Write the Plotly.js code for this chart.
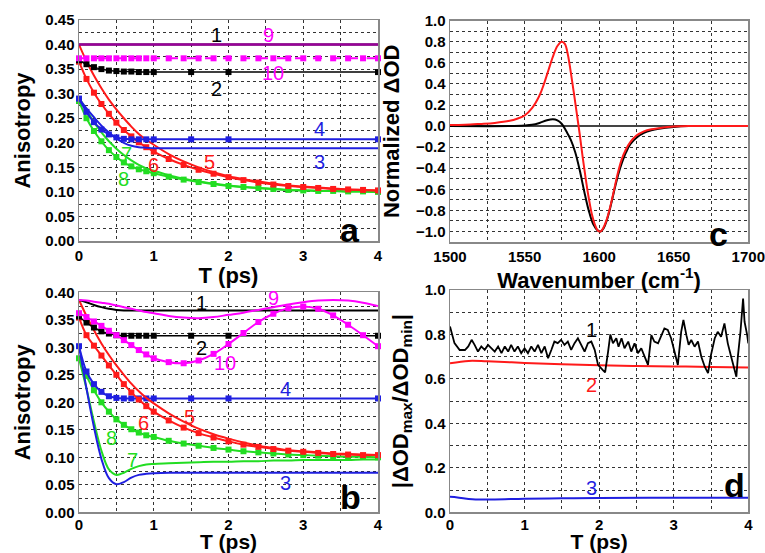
<!DOCTYPE html>
<html>
<head>
<meta charset="utf-8">
<script src="https://cdn.plot.ly/plotly-3.0.1.min.js"></script>
<style>html,body{margin:0;padding:0;background:#fff;}#chart{width:765px;height:553px;}</style>
</head>
<body>
<div id="chart"></div>
<script>
// ---------- time grids (ps) ----------
const T = [0,0.1,0.2,0.3,0.4,0.5,0.6,0.7,0.8,0.9,1.0,1.2,1.4,1.6,1.8,2.0,2.2,2.4,2.6,2.8,3.0,3.2,3.4,3.6,3.8,4.0];
const Tm = [0,0.1,0.2,0.3,0.4,0.5,0.6,0.7,0.8,0.9,1.0,1.5,2.0,4.0];
const tFlat = [0,4];

// ---------- panel a ----------
const a1 = [0.400,0.400];
const a9 = [0.400,0.400];
const a10 = [0.372,0.372,0.372,0.372,0.372,0.372,0.372,0.372,0.372,0.372,0.372,0.372,0.372,0.372,0.372,0.372,0.372,0.372,0.372,0.372,0.372,0.372,0.372,0.372,0.372,0.372];
const a2 = [0.368,0.360,0.354,0.350,0.347,0.346,0.345,0.345,0.344,0.344,0.344,0.344,0.344,0.344];
const a3 = [0.290,0.270,0.252,0.235,0.221,0.209,0.200,0.194,0.191,0.190,0.189,0.189,0.189,0.189,0.189,0.189,0.189,0.189,0.189,0.189,0.189,0.189,0.189,0.189,0.189,0.189];
const a4 = [0.290,0.263,0.242,0.227,0.217,0.211,0.208,0.207,0.207,0.207,0.207,0.207,0.207,0.207];
const a5 = [0.400,0.366,0.337,0.311,0.288,0.268,0.250,0.233,0.218,0.206,0.196,0.177,0.162,0.150,0.140,0.132,0.126,0.121,0.117,0.113,0.111,0.109,0.107,0.105,0.104,0.103];
const a6 = [0.365,0.330,0.302,0.279,0.259,0.241,0.226,0.213,0.201,0.191,0.182,0.167,0.155,0.145,0.137,0.130,0.124,0.119,0.115,0.112,0.110,0.108,0.106,0.105,0.104,0.103];
const a7 = [0.292,0.266,0.242,0.221,0.203,0.188,0.175,0.164,0.155,0.148,0.143,0.134,0.127,0.121,0.117,0.113,0.110,0.108,0.106,0.104,0.103,0.102,0.102,0.101,0.101,0.100];
const a8 = [0.285,0.250,0.224,0.203,0.185,0.171,0.160,0.152,0.146,0.142,0.138,0.131,0.125,0.120,0.116,0.112,0.110,0.108,0.106,0.104,0.103,0.102,0.102,0.101,0.101,0.100];

// ---------- panel b ----------
const b1 = [0.386,0.382,0.377,0.373,0.370,0.368,0.367,0.367,0.367,0.367,0.367,0.367,0.367,0.367,0.367,0.367,0.367,0.367,0.367,0.367,0.367,0.367,0.367,0.367,0.367,0.367];
const b9 = [0.386,0.385,0.383,0.381,0.379,0.376,0.373,0.370,0.367,0.364,0.362,0.357,0.354,0.353,0.355,0.359,0.363,0.368,0.373,0.378,0.382,0.385,0.386,0.385,0.381,0.375];
const b10 = [0.362,0.355,0.347,0.339,0.330,0.322,0.313,0.304,0.295,0.287,0.280,0.273,0.271,0.276,0.288,0.306,0.326,0.346,0.361,0.371,0.374,0.370,0.358,0.341,0.322,0.302];
const b2 = [0.356,0.345,0.336,0.329,0.325,0.322,0.321,0.321,0.321,0.321,0.321,0.321,0.321,0.321];
const b3 = [0.302,0.225,0.155,0.097,0.062,0.051,0.055,0.063,0.068,0.070,0.071,0.072,0.072,0.072,0.072,0.072,0.072,0.072,0.072,0.072,0.072,0.072,0.072,0.072,0.072,0.072];
const b4 = [0.302,0.256,0.233,0.219,0.211,0.208,0.207,0.207,0.207,0.207,0.207,0.207,0.207,0.207];
const b5 = [0.386,0.357,0.331,0.307,0.286,0.267,0.250,0.234,0.220,0.208,0.198,0.180,0.165,0.152,0.142,0.134,0.127,0.121,0.117,0.113,0.111,0.109,0.107,0.106,0.105,0.104];
const b6 = [0.354,0.322,0.303,0.285,0.267,0.250,0.233,0.218,0.205,0.193,0.183,0.167,0.154,0.144,0.136,0.129,0.123,0.119,0.115,0.112,0.110,0.108,0.106,0.105,0.104,0.104];
const b7 = [0.280,0.225,0.165,0.112,0.078,0.068,0.072,0.079,0.084,0.087,0.088,0.089,0.090,0.091,0.092,0.092,0.093,0.093,0.094,0.094,0.095,0.095,0.095,0.095,0.096,0.096];
const b8 = [0.280,0.248,0.222,0.200,0.183,0.169,0.159,0.151,0.145,0.140,0.137,0.130,0.125,0.121,0.117,0.114,0.111,0.109,0.107,0.105,0.104,0.103,0.102,0.101,0.101,0.100];

// ---------- panel c ----------
const wnRed = [1500,1510,1520,1530,1540,1545,1550,1555,1560,1563,1566,1569,1572,1575,1577,1579,1581,1583,1585,1587,1589,1591,1593,1595,1597,1599,1601,1603,1605,1607,1609,1611,1613,1615,1618,1621,1625,1630,1635,1640,1650,1660,1700];
const odRed = [0.010,0.012,0.020,0.030,0.050,0.070,0.100,0.170,0.290,0.400,0.530,0.660,0.760,0.800,0.780,0.680,0.510,0.320,0.120,-0.080,-0.300,-0.500,-0.680,-0.830,-0.930,-0.990,-1.000,-0.960,-0.890,-0.790,-0.670,-0.540,-0.420,-0.320,-0.220,-0.150,-0.090,-0.050,-0.030,-0.020,-0.005,0.000,0.000];
const wnBlack = [1500,1540,1550,1555,1560,1565,1569,1572,1575,1578,1581,1584,1587,1590,1593,1596,1599,1601,1603,1605,1607,1609,1611,1613,1615,1618,1621,1625,1630,1635,1640,1650,1660,1700];
const odBlack = [0.000,0.000,0.005,0.012,0.030,0.055,0.065,0.055,0.020,-0.050,-0.130,-0.250,-0.420,-0.620,-0.800,-0.930,-0.990,-1.000,-0.970,-0.900,-0.800,-0.680,-0.560,-0.450,-0.360,-0.250,-0.170,-0.110,-0.065,-0.040,-0.025,-0.008,0.000,0.000];

// ---------- panel d ----------
const dT1 = [0.00,0.06,0.13,0.20,0.245,0.29,0.33,0.375,0.42,0.465,0.51,0.555,0.60,0.645,0.69,0.735,0.78,0.82,0.865,0.91,0.955,1.00,1.045,1.09,1.135,1.18,1.225,1.27,1.315,1.36,1.40,1.445,1.49,1.535,1.58,1.625,1.67,1.715,1.76,1.805,1.85,1.895,1.94,1.985,2.05,2.08,2.12,2.15,2.185,2.23,2.26,2.30,2.34,2.39,2.43,2.475,2.52,2.565,2.61,2.655,2.70,2.74,2.79,2.83,2.875,2.92,2.965,3.01,3.055,3.10,3.13,3.17,3.20,3.235,3.28,3.325,3.37,3.415,3.46,3.50,3.55,3.59,3.635,3.68,3.725,3.77,3.815,3.84,3.86,3.895,3.93,3.95,3.985,4.00];
const d1 = [0.836,0.761,0.730,0.730,0.746,0.776,0.753,0.723,0.746,0.731,0.753,0.738,0.723,0.746,0.716,0.746,0.723,0.753,0.723,0.746,0.716,0.738,0.716,0.746,0.723,0.753,0.716,0.746,0.693,0.731,0.768,0.761,0.776,0.753,0.768,0.731,0.761,0.783,0.753,0.723,0.761,0.768,0.731,0.663,0.640,0.630,0.723,0.800,0.760,0.783,0.745,0.783,0.738,0.768,0.723,0.760,0.716,0.738,0.700,0.663,0.797,0.768,0.760,0.790,0.827,0.820,0.783,0.723,0.663,0.812,0.865,0.797,0.753,0.775,0.745,0.768,0.700,0.656,0.626,0.708,0.783,0.812,0.790,0.850,0.760,0.700,0.633,0.610,0.700,0.812,0.962,0.857,0.797,0.760];
const dT2 = [0,0.25,0.5,1.0,1.5,2.0,2.5,3.0,3.5,4.0];
const d2 = [0.670,0.681,0.679,0.672,0.666,0.661,0.658,0.656,0.654,0.651];
const dT3 = [0,0.1,0.2,0.3,0.4,0.6,1.0,1.5,2.0,3.0,4.0];
const d3 = [0.070,0.067,0.062,0.059,0.058,0.058,0.061,0.063,0.064,0.066,0.066];

// ---------- tick labels ----------
const tTicks = [0,1,2,3,4];
const wnTicks = [1500,1550,1600,1650,1700];

// ---------- styles ----------
const RED = '#ff1a1a', GREEN = '#22dd22', BLUE = '#1f1fe0', MAG = '#ff00ff', BLK = '#000000';
const FONT = 'Liberation Sans, Arial, sans-serif';

function line(x, y, color, xa, ya, opts) {
  opts = opts || {};
  return {
    x: x, y: y, xaxis: xa, yaxis: ya, type: 'scatter',
    mode: opts.markers ? 'lines+markers' : 'lines',
    line: {color: color, width: opts.width || 2, shape: opts.shape || 'spline', dash: opts.dash || 'solid'},
    marker: {symbol: 'square', size: 6, color: color},
    opacity: opts.opacity || 1,
    cliponaxis: false,
    showlegend: false, hoverinfo: 'skip'
  };
}

const traces = [
  // panel a
  line(T, a7, GREEN, 'x', 'y'),
  line(T, a8, GREEN, 'x', 'y', {markers: true}),
  line(T, a5, RED, 'x', 'y'),
  line(T, a6, RED, 'x', 'y', {markers: true}),
  line(T, a3, BLUE, 'x', 'y'),
  line(Tm, a4, BLUE, 'x', 'y', {markers: true}),
  line(Tm, a2, BLK, 'x', 'y', {markers: true, width: 1.5}),
  line(T, a10, MAG, 'x', 'y', {markers: true, dash: 'dash'}),
  line(tFlat, a1, BLK, 'x', 'y', {width: 2.5}),
  line(tFlat, a9, MAG, 'x', 'y', {width: 2.5, opacity: 0.6}),
  // panel b
  line(T, b7, GREEN, 'x3', 'y3'),
  line(T, b8, GREEN, 'x3', 'y3', {markers: true}),
  line(T, b3, BLUE, 'x3', 'y3'),
  line(Tm, b4, BLUE, 'x3', 'y3', {markers: true}),
  line(T, b5, RED, 'x3', 'y3'),
  line(T, b6, RED, 'x3', 'y3', {markers: true}),
  line(Tm, b2, BLK, 'x3', 'y3', {markers: true, width: 1.5}),
  line(T, b1, BLK, 'x3', 'y3'),
  line(T, b10, MAG, 'x3', 'y3', {markers: true}),
  line(T, b9, MAG, 'x3', 'y3'),
  // panel c
  line(wnBlack, odBlack, BLK, 'x2', 'y2', {width: 2}),
  line(wnRed, odRed, RED, 'x2', 'y2', {width: 2}),
  // panel d
  line(dT2, d2, RED, 'x4', 'y4'),
  line(dT3, d3, BLUE, 'x4', 'y4'),
  line(dT1, d1, BLK, 'x4', 'y4', {shape: 'linear', width: 1.8})
];

const GRID = {gridcolor: '#333', griddash: 'dot', gridwidth: 1};
const TITLE_SIZE = 22;
function xAxis(domain, range, vals, anchor, title, titleSize, labelStandoff) {
  return Object.assign({
    domain: domain, range: range, anchor: anchor,
    tickmode: 'array', tickvals: vals, ticktext: vals.map(String),
    showgrid: true, ticks: '', showline: true, mirror: true, linecolor: '#888', linewidth: 1.5,
    zeroline: false, fixedrange: true, ticklabelstandoff: labelStandoff || 0,
    tickfont: {family: FONT, size: 15, color: '#000', weight: 'bold'},
    title: {text: title, font: {family: FONT, size: titleSize || TITLE_SIZE, color: '#000', weight: 'bold'}, standoff: 0},
    minor: Object.assign({dtick: (range[1]-range[0]) / 8, showgrid: true, ticks: ''}, GRID)
  }, GRID);
}
function yAxis(domain, range, dtick, minorDtick, fmt, anchor, title, standoff) {
  return Object.assign({
    domain: domain, range: range, anchor: anchor, dtick: dtick, tick0: 0, tickformat: fmt,
    showgrid: true, ticks: '', showline: true, mirror: true, linecolor: '#888', linewidth: 1.5,
    zeroline: false, fixedrange: true,
    tickfont: {family: FONT, size: 15, color: '#000', weight: 'bold'},
    title: {text: title, font: {family: FONT, size: TITLE_SIZE, color: '#000', weight: 'bold'}, standoff: standoff},
    minor: Object.assign({dtick: minorDtick, tick0: 0, showgrid: true, ticks: ''}, GRID)
  }, GRID);
}

const dxL = [79/765, 378/765], dxR = [450/765, 748.3/765];
const dyTop = [(553-241)/553, (553-20)/553];
const dyBot = [(553-512.3)/553, (553-292.3)/553];
const dyC = [(553-242)/553, (553-20.7)/553];
const dyD = [(553-512.3)/553, (553-290)/553];

function lab(text, x, y, color, xr, yr, size, bold) {
  return {text: text, x: x, y: y, xref: xr, yref: yr, showarrow: false,
    xanchor: 'center', yanchor: 'middle',
    font: {family: FONT, size: size || 20, color: color, weight: bold ? 'bold' : 'normal'}};
}

const layout = {
  width: 765, height: 553,
  margin: {l: 0, r: 0, t: 0, b: 0},
  paper_bgcolor: '#fff', plot_bgcolor: '#fff',
  showlegend: false,
  xaxis: xAxis(dxL, [0, 4], tTicks, 'y', 'T (ps)'),
  yaxis: yAxis(dyTop, [0, 0.45], 0.05, 0.025, '.2f', 'x', 'Anisotropy', 8),
  xaxis2: xAxis(dxR, [1500, 1700], wnTicks, 'y2', 'Wavenumber (cm<sup>-1</sup>)'),
  yaxis2: Object.assign(yAxis(dyC, [-1.1, 1.0], 0.2, 0.1, '.1f', 'x2', 'Normalized \u0394OD', 10),
    {zeroline: true, zerolinecolor: '#444', zerolinewidth: 1.2}),
  xaxis3: xAxis(dxL, [0, 4], tTicks, 'y3', 'T (ps)', 21, -2),
  yaxis3: yAxis(dyBot, [0, 0.40], 0.05, 0.025, '.2f', 'x3', 'Anisotropy', 8),
  xaxis4: xAxis(dxR, [0, 4], tTicks, 'y4', 'T (ps)', 21, -2),
  yaxis4: yAxis(dyD, [0, 1.0], 0.2, 0.1, '.1f', 'x4', '|\u0394OD<sub>max</sub>/\u0394OD<sub>min</sub>|', 10),
  annotations: [
    // panel a
    lab('1', 1.84, 0.419, BLK, 'x', 'y'),
    lab('9', 2.53, 0.419, MAG, 'x', 'y'),
    lab('10', 2.6, 0.343, MAG, 'x', 'y'),
    lab('2', 1.84, 0.309, BLK, 'x', 'y'),
    lab('4', 3.22, 0.229, BLUE, 'x', 'y'),
    lab('3', 3.22, 0.160, BLUE, 'x', 'y'),
    lab('5', 1.75, 0.160, RED, 'x', 'y'),
    lab('6', 1.0, 0.155, RED, 'x', 'y'),
    lab('7', 0.64, 0.178, GREEN, 'x', 'y'),
    lab('8', 0.59, 0.127, GREEN, 'x', 'y'),
    lab('a', 3.63, 0.022, BLK, 'x', 'y', 34, true),
    // panel b
    lab('1', 1.64, 0.381, BLK, 'x3', 'y3'),
    lab('9', 2.6, 0.389, MAG, 'x3', 'y3'),
    lab('2', 1.64, 0.298, BLK, 'x3', 'y3'),
    lab('10', 1.95, 0.271, MAG, 'x3', 'y3'),
    lab('4', 2.76, 0.225, BLUE, 'x3', 'y3'),
    lab('5', 1.48, 0.174, RED, 'x3', 'y3'),
    lab('6', 0.86, 0.162, RED, 'x3', 'y3'),
    lab('8', 0.43, 0.135, GREEN, 'x3', 'y3'),
    lab('7', 0.72, 0.096, GREEN, 'x3', 'y3'),
    lab('3', 2.76, 0.053, BLUE, 'x3', 'y3'),
    lab('b', 3.63, 0.028, BLK, 'x3', 'y3', 34, true),
    // panel c
    lab('c', 1680, -1.02, BLK, 'x2', 'y2', 34, true),
    // panel d
    lab('1', 1.9, 0.82, BLK, 'x4', 'y4'),
    lab('2', 1.9, 0.573, RED, 'x4', 'y4'),
    lab('3', 1.9, 0.108, BLUE, 'x4', 'y4'),
    lab('d', 3.82, 0.123, BLK, 'x4', 'y4', 34, true)
  ]
};

Plotly.newPlot('chart', traces, layout, {staticPlot: true, displayModeBar: false});
</script>
</body>
</html>
